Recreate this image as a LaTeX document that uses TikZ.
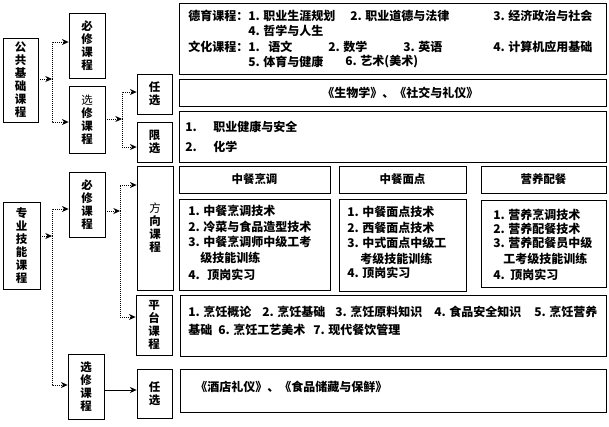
\documentclass[tikz,border=0pt]{standalone}
\usepackage{fontspec}
\setmainfont{Noto Sans CJK SC}
\usetikzlibrary{arrows.meta}

\begin{document}
\begin{tikzpicture}
    [ x=.75pt, y=-.75pt,
      font=\bfseries\fontsize{9}{10}\selectfont,
      kbox/.style={draw, line width=.6pt, inner sep=0pt, align=center,
                   font=\bfseries\fontsize{8.6}{9.8}\selectfont},
      txt/.style={anchor=west, inner sep=0pt},
      link/.style={->, line width=.6pt, dash pattern=on .75pt off .75pt},
      >={Stealth[length=5pt,width=4.5pt]},
    ]
    \useasboundingbox (0,0) rectangle (609,426);

    % boxes: name / left / top / right / bottom / label
    \foreach \nm / \xa / \ya / \xb / \yb / \t in {
            gj/3/38/38/122/{公\\共\\基\\础\\课\\程},
            bxa/69/13/105/78/{必\\修\\课\\程},
            xxa/69/86/105/153/{\mdseries 选\\修\\课\\程},
            rxa/137/74/172/114/{任\\选},
            lx/137/122/172/162/{限\\选},
            gz/3/202/40/289/{专\\业\\技\\能\\课\\程},
            bxb/69/172/105/237/{必\\修\\课\\程},
            xxb/68/354/104/419/{选\\修\\课\\程},
            fx/137/166/173/290/{\mdseries 方\\向\\课\\程},
            pt/136/295/172/355/{平\\台\\课\\程},
            rxb/137/369/172/418/{任\\选},
            dy/179/3/606/74/{},
            rsa/179/79/606/106/{},
            ls/179/111/606/162/{},
            hza/179/166/330/193/{中餐烹调},
            hma/339/166/466/193/{中餐面点},
            hya/481/166/606/193/{营养配餐},
            hzb/179/199/330/290/{},
            hmb/339/199/466/291/{},
            hyb/481/200/606/287/{},
            pc/180/295/606/356/{},
            rsb/180/369/606/412/{}} {
        \node[kbox, minimum width={(\xb-\xa)*.75pt},
              minimum height={(\yb-\ya)*.75pt}]
            (\nm) at ({(\xa+\xb)/2}, {(\ya+\yb)/2}) {\t};
    }

    % texts in the boxes
    \foreach \t / \x / \y [count=\i] in {
            德育课程：/188/16, 1. 职业生涯规划/248/16,
            2. 职业道德与法律/350/16, 3. 经济政治与社会/493/16,
            4. 哲学与人生/248/31,
            文化课程：/188/47, 1./248/47, 语文/268/47, 2. 数学/328/47,
            3. 英语/403/47, 4. 计算机应用基础/493/47,
            5. 体育与健康/248/62, 6. 艺术(美术)/345/62,
            《生物学》、《社交与礼仪》/322/93,
            1./185/127, 职业健康与安全/213/127, 2./185/147, 化学/213/147,
            1. 中餐烹调技术/188/211, 2. 冷菜与食品造型技术/188/227,
            3. 中餐烹调师中级工考/188/242, 级技能训练/200/258,
            4./188/275, 顶岗实习/207/275,
            1. 中餐面点技术/347/212, 2. 西餐面点技术/347/228,
            3. 中式面点中级工/347/243, 考级技能训练/360/259,
            4./347/273, 顶岗实习/362/273,
            1. 营养烹调技术/493/215, 2. 营养配餐技术/493/229,
            3. 营养配餐员中级/493/243, 工考级技能训练/503/259,
            4./493/275, 顶岗实习/510/275,
            1. 烹饪概论/188/312, 2. 烹饪基础/262/312,
            3. 烹饪原料知识/335/312, 4. 食品安全知识/434/312,
            5. 烹饪营养/534/312,
            基础/188/330, 6. 烹饪工艺美术/218/330, 7. 现代餐饮管理/313/330,
            《酒店礼仪》、《食品储藏与保鲜》/195/387} {
        \node[txt] (w\i) at (\x, \y) {\t};
    }

    % connectors
    \coordinate (ja) at (52, 79);
    \draw[link] (gj.east |- ja) -- (ja);
    \draw[link] (ja) |- (bxa.west |- 0,42);
    \draw[link] (ja) |- (xxa.west |- 0,122);

    \coordinate (jb) at (122, 119);
    \draw[link] (xxa.east |- jb) -- (jb);
    \draw[link] (jb) |- (rxa.west |- 0,92);
    \draw[link] (jb) |- (lx.west |- 0,147);

    \coordinate (jc) at (52, 236);
    \draw[link] (gz.east |- jc) -- (jc);
    \draw[link] (jc) |- (bxb.west |- 0,209);
    \draw[link] (jc) |- (xxb.west |- 0,385);

    \coordinate (jd) at (120, 211);
    \draw[link] (bxb.east |- jd) -- (jd);
    \draw[link] (jd) |- (fx.west |- 0,185);
    \draw[link] (jd) |- (pt.west |- 0,317);

    \draw[link, solid] (xxb.east |- 0,390) -- (rxb.west |- 0,390);
\end{tikzpicture}
\end{document}
